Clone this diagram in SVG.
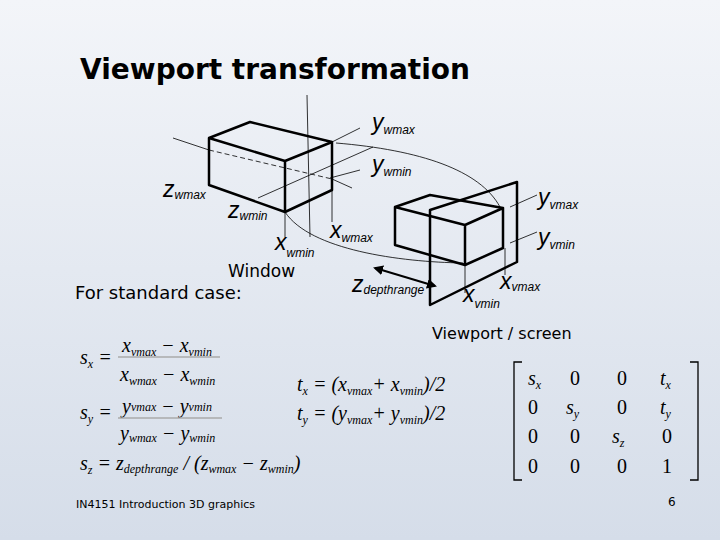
<svg xmlns="http://www.w3.org/2000/svg" width="720" height="540" viewBox="0 0 720 540">
<defs>
<linearGradient id="bg" x1="0" y1="0" x2="0" y2="1"><stop offset="0" stop-color="#f3f5f9"/><stop offset="1" stop-color="#d5dde9"/></linearGradient>
<marker id="ah" viewBox="0 0 10 10" refX="8" refY="5" markerWidth="5" markerHeight="5" orient="auto-start-reverse"><path d="M0,0L10,5L0,10z" fill="#000"/></marker>
<style>
.b{fill:none;stroke:#000;stroke-width:2.5;stroke-linejoin:round}
.t{fill:none;stroke:#000;stroke-width:0.8}
.l{font-family:"Liberation Sans",sans-serif;font-style:italic;font-size:23px}
.l tspan.s{font-size:12px}
.m{font-family:"Liberation Serif",serif;font-style:italic;font-size:20px}
.m tspan.s{font-size:12px}
.n{font-family:"Liberation Serif",serif;font-size:20px}
.p{font-family:"DejaVu Sans",sans-serif;font-size:16px}
</style>
</defs>
<rect width="720" height="540" fill="url(#bg)"/>
<text x="80" y="79" font-family="DejaVu Sans, sans-serif" font-weight="bold" font-size="28">Viewport transformation</text>
<g id="connectors">
<line class="t" x1="307" y1="95" x2="310" y2="237"/>
<line class="t" x1="173" y1="138" x2="209" y2="150"/>
<line class="t" x1="209" y1="150" x2="332" y2="179" stroke-dasharray="5,3"/>
<line class="t" x1="332" y1="179" x2="352" y2="188"/>
<line class="t" x1="258" y1="198" x2="373" y2="147"/>
<line class="t" x1="332" y1="142" x2="360" y2="128"/>
<line class="t" x1="330" y1="178" x2="360" y2="170"/>
<line class="t" x1="285" y1="212" x2="285" y2="237"/>
<line class="t" x1="332" y1="190" x2="332" y2="222"/>
<path class="t" d="M336,143 C420,150 480,170 500,207"/>
<path class="t" d="M285,212 C310,250 400,262 463,263"/>
<line class="t" x1="510" y1="207" x2="537" y2="195"/>
<line class="t" x1="510" y1="243" x2="537" y2="232"/>
<line class="t" x1="465" y1="265" x2="465" y2="293"/>
<line class="t" x1="505" y1="248" x2="505" y2="275"/>
<line x1="375" y1="268" x2="435" y2="286" stroke="#000" stroke-width="2" marker-start="url(#ah)" marker-end="url(#ah)"/>
</g>
<g id="window">
<path class="b" d="M209,138L250,122L332,142L285,161Z M209,138L209,185L285,212L285,161 M285,212L332,190L332,142"/>
</g>
<g id="viewport">
<path class="b" d="M395,207L430,195L503,208L465,225Z M395,207L395,245L465,265L465,225 M465,265L503,248L503,208"/>
<path class="b" d="M430,210L517,182L517,262L430,305Z"/>
</g>
<g id="labels">
<text class="l" x="372" y="130">y<tspan class="s" dy="4">wmax</tspan></text>
<text class="l" x="372" y="172">y<tspan class="s" dy="4">wmin</tspan></text>
<text class="l" x="538" y="205">y<tspan class="s" dy="4">vmax</tspan></text>
<text class="l" x="538" y="245">y<tspan class="s" dy="4">vmin</tspan></text>
<text class="l" x="163" y="197">z<tspan class="s" dy="2">wmax</tspan></text>
<text class="l" x="228" y="218">z<tspan class="s" dy="2">wmin</tspan></text>
<text class="l" x="275" y="250">x<tspan class="s" dy="7">wmin</tspan></text>
<text class="l" x="330" y="238">x<tspan class="s" dy="4">wmax</tspan></text>
<text x="228" y="277" font-family="DejaVu Sans, sans-serif" font-size="17">Window</text>
<text class="l" x="352" y="292">z<tspan class="s" dy="2">depthrange</tspan></text>
<text class="l" x="463" y="302">x<tspan class="s" dy="6">vmin</tspan></text>
<text class="l" x="500" y="289">x<tspan class="s" dy="2">vmax</tspan></text>
<text x="75" y="299" font-family="DejaVu Sans, sans-serif" font-size="18">For standard case:</text>
<text class="p" x="432" y="339">Viewport / screen</text>
</g>
<g id="formulas">
<text class="m" x="80" y="364">s<tspan class="s" dy="4">x</tspan><tspan class="n" dy="-4"> =</tspan></text>
<text class="m" x="122" y="352">x<tspan class="s" dy="4">vmax</tspan><tspan dy="-4" class="n"> − </tspan>x<tspan class="s" dy="4">vmin</tspan></text>
<line x1="118" y1="357" x2="220" y2="357" stroke="#aaa" stroke-width="1.5"/>
<text class="m" x="120" y="381">x<tspan class="s" dy="4">wmax</tspan><tspan dy="-4" class="n"> − </tspan>x<tspan class="s" dy="4">wmin</tspan></text>
<text class="m" x="80" y="419">s<tspan class="s" dy="4">y</tspan><tspan class="n" dy="-4"> =</tspan></text>
<text class="m" x="122" y="413">y<tspan class="s" dy="-2">vmax</tspan><tspan dy="2" class="n"> − </tspan>y<tspan class="s" dy="-2">vmin</tspan></text>
<line x1="118" y1="418" x2="222" y2="418" stroke="#aaa" stroke-width="1.5"/>
<text class="m" x="120" y="440">y<tspan class="s" dy="2">wmax</tspan><tspan dy="-2" class="n"> − </tspan>y<tspan class="s" dy="2">wmin</tspan></text>
<text class="m" x="80" y="470">s<tspan class="s" dy="4">z</tspan><tspan class="n" dy="-4"> = </tspan>z<tspan class="s" dy="3">depthrange</tspan><tspan class="n" dy="-3"> / (</tspan>z<tspan class="s" dy="3">wmax</tspan><tspan class="n" dy="-3"> − </tspan>z<tspan class="s" dy="3">wmin</tspan><tspan class="n" dy="-3">)</tspan></text>
<text class="m" x="297" y="391">t<tspan class="s" dy="4">x</tspan><tspan class="n" dy="-4"> = (</tspan>x<tspan class="s" dy="4">vmax</tspan><tspan class="n" dy="-4">+ </tspan>x<tspan class="s" dy="4">vmin</tspan><tspan class="n" dy="-4">)/2</tspan></text>
<text class="m" x="297" y="420">t<tspan class="s" dy="4">y</tspan><tspan class="n" dy="-4"> = (</tspan>y<tspan class="s" dy="4">vmax</tspan><tspan class="n" dy="-4">+ </tspan>y<tspan class="s" dy="4">vmin</tspan><tspan class="n" dy="-4">)/2</tspan></text>
</g>
<g id="matrix">
<path d="M522,362H514V480H522 M690,362H698V480H690" fill="none" stroke="#000" stroke-width="1.3"/>
<text class="m" x="528" y="385">s<tspan class="s" dy="4">x</tspan></text>
<text class="n" x="570" y="385">0</text><text class="n" x="617" y="385">0</text>
<text class="m" x="660" y="385">t<tspan class="s" dy="4">x</tspan></text>
<text class="n" x="528" y="414">0</text>
<text class="m" x="566" y="414">s<tspan class="s" dy="4">y</tspan></text>
<text class="n" x="617" y="414">0</text>
<text class="m" x="660" y="414">t<tspan class="s" dy="4">y</tspan></text>
<text class="n" x="528" y="443">0</text><text class="n" x="570" y="443">0</text>
<text class="m" x="612" y="443">s<tspan class="s" dy="4">z</tspan></text>
<text class="n" x="662" y="443">0</text>
<text class="n" x="528" y="473">0</text><text class="n" x="570" y="473">0</text><text class="n" x="617" y="473">0</text><text class="n" x="662" y="473">1</text>
</g>
<text x="76" y="508" font-family="DejaVu Sans, sans-serif" font-size="11">IN4151  Introduction 3D graphics</text>
<text x="668" y="506" font-family="DejaVu Sans, sans-serif" font-size="12">6</text>
</svg>
